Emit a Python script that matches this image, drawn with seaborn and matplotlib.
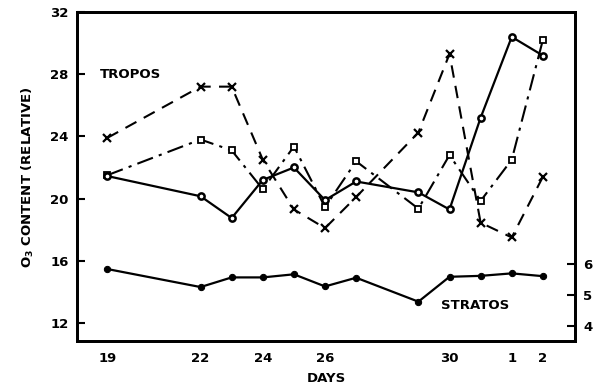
import matplotlib
matplotlib.use("Agg")
import matplotlib.pyplot as plt
import seaborn as sns
import numpy as np
import pandas as pd

# ---- data ----
days = [19, 22, 23, 24, 25, 26, 27, 29, 30, 31, 32, 33]
tropos_circle = [21.45, 20.15, 18.75, 21.2, 22.0, 19.9, 21.1, 20.4, 19.3, 25.2, 30.4, 29.2]
tropos_x = [23.9, 27.2, 27.2, 22.5, 19.3, 18.1, 20.1, 24.25, 29.3, 18.45, 17.5, 21.4]
tropos_square = [21.5, 23.8, 23.1, 20.6, 23.35, 19.45, 22.4, 19.35, 22.8, 19.85, 22.5, 30.2]
stratos = [5.83, 5.25, 5.56, 5.56, 5.66, 5.27, 5.55, 4.78, 5.58, 5.61, 5.69, 5.6]

xtick_pos = [19, 22, 23, 24, 25, 26, 27, 29, 30, 31, 32, 33]
xtick_labels = ["19", "22", "", "24", "", "26", "", "", "30", "", "1", "2"]
left_ticks = [12, 16, 20, 24, 28, 32]
right_ticks = [4, 5, 6]

sns.set_theme(style="white")
plt.rcParams['font.family'] = ['DejaVu Sans']
plt.rcParams['font.weight'] = 'bold'

fig = plt.figure(figsize=(5.97, 3.89), dpi=100)
ax = fig.add_axes([0.129, 0.1234, 0.834, 0.8457])
ax2 = ax.twinx()

df = pd.DataFrame({"day": days, "circ": tropos_circle, "x": tropos_x,
                   "sq": tropos_square, "strat": stratos})

sns.lineplot(data=df, x="day", y="x", ax=ax, color="black", lw=1.5,
             linestyle=(0, (6, 4)), marker="x", markersize=5.5, mew=1.6,
             markeredgecolor="black")
sns.lineplot(data=df, x="day", y="sq", ax=ax, color="black", lw=1.5,
             linestyle=(0, (8, 3, 1.5, 3)), marker="s", markersize=4.5,
             markerfacecolor="white", markeredgecolor="black", mew=1.3)
sns.lineplot(data=df, x="day", y="circ", ax=ax, color="black", lw=1.6,
             linestyle="-", marker="o", markersize=4.5,
             markerfacecolor="white", markeredgecolor="black", mew=1.8)
sns.lineplot(data=df, x="day", y="strat", ax=ax2, color="black", lw=1.6,
             linestyle="-", marker="o", markersize=4.5, markerfacecolor="black",
             markeredgecolor="black")

ax.set_xlim(18.03, 34.03)
ax.set_ylim(10.84, 32)
ax2.set_ylim(3.515, 14.095)

ax.set_xticks(xtick_pos)
ax.set_xticklabels(xtick_labels, fontsize=9.5, fontweight="bold")
ax.set_yticks(left_ticks)
ax.set_yticklabels([str(t) for t in left_ticks], fontsize=9.5, fontweight="bold")
ax2.set_yticks(right_ticks)
ax2.set_yticklabels([str(t) for t in right_ticks], fontsize=9.5, fontweight="bold")

ax.tick_params(axis="both", direction="in", length=6, width=1.5, color="black",
               labelcolor="black", pad=8)
ax.tick_params(axis="y", pad=6)
ax2.tick_params(axis="y", direction="in", length=6, width=1.5, color="black",
                labelcolor="black", pad=6)

for a in (ax, ax2):
    for s in a.spines.values():
        s.set_color("black")
        s.set_linewidth(2)
    a.grid(False)

ax.set_xlabel("DAYS", fontsize=9.5, fontweight="bold", labelpad=5, color="black")
ax.set_ylabel("O$_3$ CONTENT (RELATIVE)", fontsize=9.5, fontweight="bold",
              labelpad=10, color="black")
ax2.set_ylabel("")

ax.text(18.77, 28.0, "TROPOS", fontsize=9.5, fontweight="bold", va="center",
        ha="left", color="black")
ax.text(29.74, 13.1, "STRATOS", fontsize=9.5, fontweight="bold", va="center",
        ha="left", color="black")

fig.savefig("out.png", dpi=100)
